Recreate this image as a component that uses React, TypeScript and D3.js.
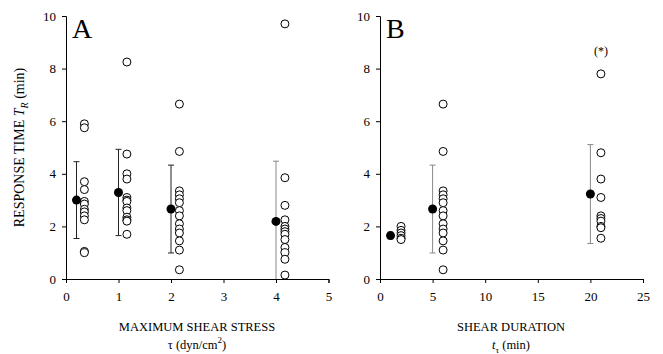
import * as d3 from "d3";
import { useEffect, useRef } from "react";

// panel A: maximum shear stress
const stressMeanX = [0.2, 1, 2, 4];
const stressPointX = [0.35, 1.16, 2.16, 4.17];
const stressMeans = [3.0, 3.29, 2.66, 2.19];
const stressSD = [1.46, 1.64, 1.67, 2.29];
const stressBarColor = ["#222", "#222", "#222", "#888"];
const stressPoints = [
  [5.9, 5.75, 3.7, 3.4, 2.95, 2.85, 2.65, 2.55, 2.4, 2.25, 1.05, 1.0],
  [8.25, 4.75, 4.0, 3.8, 3.1, 3.0, 2.95, 2.7, 2.6, 2.35, 2.25, 2.2, 1.7],
  [6.65, 4.85, 3.35, 3.2, 3.05, 2.9, 2.6, 2.4, 2.1, 1.9, 1.75, 1.45, 1.1, 0.35],
  [9.7, 3.85, 2.8, 2.25, 2.0, 1.9, 1.8, 1.7, 1.5, 1.2, 1.0, 0.75, 0.15],
];

// panel B: shear duration
const durationMeanX = [1, 5, 20];
const durationPointX = [2, 6, 21];
const durationMeans = [1.65, 2.66, 3.23];
const durationSD = [0.13, 1.67, 1.88];
const durationBarColor = ["#888", "#888", "#888"];
const durationPoints = [
  [2.0, 1.85, 1.75, 1.65, 1.55, 1.5],
  [6.65, 4.85, 3.35, 3.2, 3.05, 2.9, 2.6, 2.4, 2.1, 1.9, 1.75, 1.45, 1.1, 0.35],
  [7.8, 4.8, 3.8, 3.1, 2.4, 2.3, 2.2, 2.0, 1.95, 1.55],
];

const yTicks = [0, 2, 4, 6, 8, 10];
const stressTicks = [0, 1, 2, 3, 4, 5];
const durationTicks = [0, 5, 10, 15, 20, 25];

const W = 663;
const H = 354;
const FONT = "Liberation Serif, Times New Roman, serif";

export default function App() {
  const svgRef = useRef<SVGSVGElement>(null);

  useEffect(() => {
    document.body.style.margin = "0";
    if (!svgRef.current) return;
    const svg = d3.select(svgRef.current);
    svg.selectAll("*").remove();

    const y = d3.scaleLinear().domain([0, 10]).range([279, 16]);

    function drawPanel(opts: {
      x0: number;
      x1: number;
      domain: [number, number];
      xTicks: number[];
      meanX: number[];
      pointX: number[];
      means: number[];
      sd: number[];
      barColor: string[];
      points: number[][];
      letter: string;
    }) {
      const x = d3.scaleLinear().domain(opts.domain).range([opts.x0, opts.x1]);
      const g = svg.append("g");

      // axes
      const yAxis = d3.axisLeft(y).tickValues(yTicks).tickFormat(d3.format("d")).tickSize(4).tickPadding(6);
      const ga = g.append("g").attr("transform", `translate(${opts.x0},0)`).call(yAxis);
      const xAxis = d3.axisBottom(x).tickValues(opts.xTicks).tickFormat(d3.format("d")).tickSize(4).tickPadding(9);
      const gx = g.append("g").attr("transform", `translate(0,${y(0)})`).call(xAxis);
      [ga, gx].forEach((a) => {
        a.attr("font-family", FONT).attr("font-size", 13);
        a.select(".domain").attr("stroke", "#000");
        a.selectAll(".tick line").attr("stroke", "#000");
        a.selectAll("text")
          .attr("font-family", FONT)
          .attr("font-size", 13)
          .attr("fill", "#000");
      });

      // error bars
      opts.means.forEach((m, i) => {
        const cx = x(opts.meanX[i]);
        const lo = Math.max(0, m - opts.sd[i]);
        const hi = m + opts.sd[i];
        const c = opts.barColor[i];
        g.append("line")
          .attr("x1", cx).attr("x2", cx)
          .attr("y1", y(lo)).attr("y2", y(hi))
          .attr("stroke", c).attr("stroke-width", 1);
        [lo, hi].forEach((v) => {
          if (v <= 0) return;
          g.append("line")
            .attr("x1", cx - 3).attr("x2", cx + 3)
            .attr("y1", y(v)).attr("y2", y(v))
            .attr("stroke", c).attr("stroke-width", 1);
        });
      });

      // individual points
      opts.points.forEach((pts, i) => {
        g.selectAll(null)
          .data(pts)
          .join("circle")
          .attr("cx", x(opts.pointX[i]))
          .attr("cy", (d) => y(d))
          .attr("r", 4)
          .attr("fill", "#fff")
          .attr("stroke", "#000")
          .attr("stroke-width", 1);
      });

      // means
      g.selectAll(null)
        .data(opts.means)
        .join("circle")
        .attr("cx", (_, i) => x(opts.meanX[i]))
        .attr("cy", (d) => y(d))
        .attr("r", 4.5)
        .attr("fill", "#000");

      g.append("text")
        .attr("x", opts.x0 + 6)
        .attr("y", 38)
        .attr("font-family", FONT)
        .attr("font-size", 28)
        .text(opts.letter);

      return x;
    }

    drawPanel({
      x0: 66,
      x1: 328.5,
      domain: [0, 5],
      xTicks: stressTicks,
      meanX: stressMeanX,
      pointX: stressPointX,
      means: stressMeans,
      sd: stressSD,
      barColor: stressBarColor,
      points: stressPoints,
      letter: "A",
    });

    const xB = drawPanel({
      x0: 380,
      x1: 643,
      domain: [0, 25],
      xTicks: durationTicks,
      meanX: durationMeanX,
      pointX: durationPointX,
      means: durationMeans,
      sd: durationSD,
      barColor: durationBarColor,
      points: durationPoints,
      letter: "B",
    });

    svg.append("text")
      .attr("x", xB(21))
      .attr("y", y(8.5))
      .attr("text-anchor", "middle")
      .attr("font-family", FONT)
      .attr("font-size", 12)
      .text("(*)");

    // y axis title
    const yt = svg.append("text")
      .attr("transform", `translate(24,${(y(0) + y(10)) / 2}) rotate(-90)`)
      .attr("text-anchor", "middle")
      .attr("font-family", FONT)
      .attr("font-size", 14);
    yt.append("tspan").text("RESPONSE TIME ");
    yt.append("tspan").attr("font-style", "italic").text("T");
    yt.append("tspan").attr("font-style", "italic").attr("font-size", 10).attr("dy", 4).text("R");
    yt.append("tspan").attr("dy", -4).text(" (min)");

    // x axis titles
    const titleA = svg.append("g").attr("font-family", FONT).attr("font-size", 12.5);
    titleA.append("text").attr("x", 197).attr("y", 331).attr("text-anchor", "middle")
      .text("MAXIMUM SHEAR STRESS");
    const tA = titleA.append("text").attr("x", 197).attr("y", 349).attr("text-anchor", "middle");
    tA.append("tspan").text("τ (dyn/cm");
    tA.append("tspan").attr("font-size", 9).attr("dy", -6).text("2");
    tA.append("tspan").attr("dy", 6).text(")");

    const titleB = svg.append("g").attr("font-family", FONT).attr("font-size", 12.5);
    titleB.append("text").attr("x", 511).attr("y", 331).attr("text-anchor", "middle")
      .text("SHEAR DURATION");
    const tB = titleB.append("text").attr("x", 511).attr("y", 349).attr("text-anchor", "middle");
    tB.append("tspan").attr("font-style", "italic").text("t");
    tB.append("tspan").attr("font-size", 9).attr("dy", 4).text("τ");
    tB.append("tspan").attr("dy", -4).text(" (min)");
  }, []);

  return <svg ref={svgRef} width={W} height={H} style={{ display: "block", background: "#fff" }} />;
}
